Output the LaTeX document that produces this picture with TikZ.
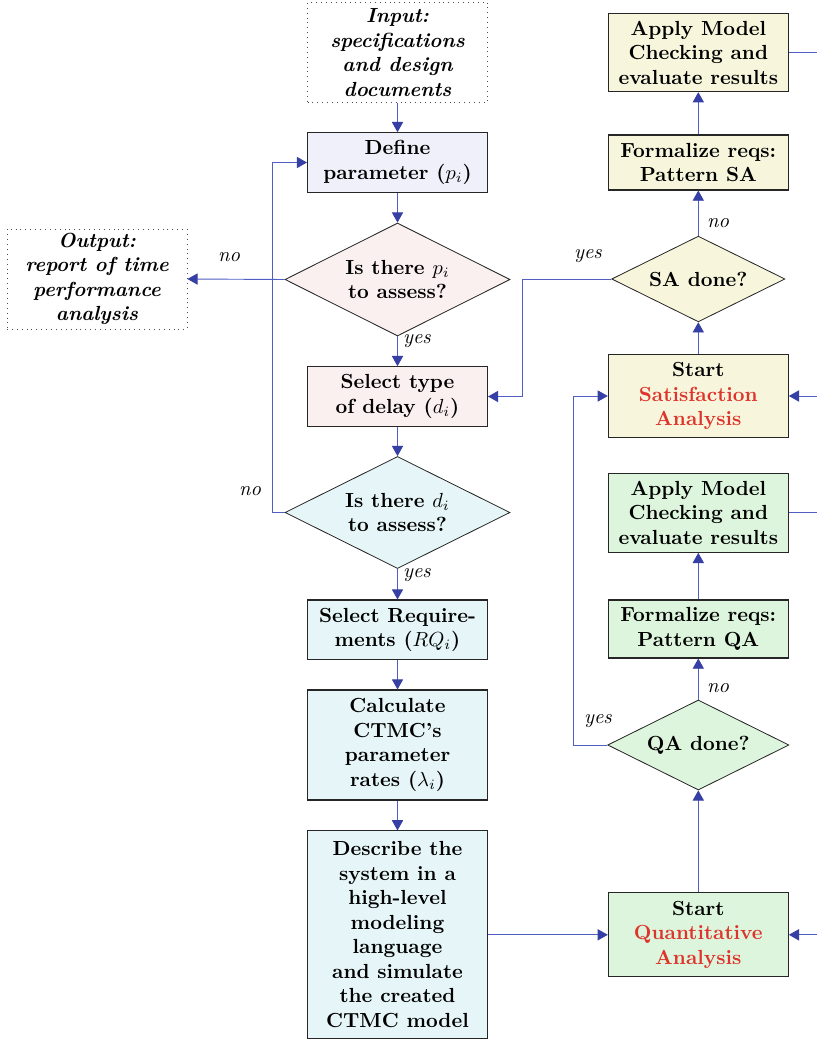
\documentclass[tikz,border=0pt]{standalone}
\usetikzlibrary{shapes.geometric,arrows.meta}
\definecolor{lineblue}{RGB}{80,94,196}
\definecolor{tipblue}{RGB}{54,64,164}
\definecolor{fillpurple}{RGB}{240,240,250}
\definecolor{fillpink}{RGB}{251,240,240}
\definecolor{fillcyan}{RGB}{230,246,248}
\definecolor{fillyellow}{RGB}{247,246,220}
\definecolor{fillgreen}{RGB}{220,245,220}
\definecolor{redtext}{RGB}{222,52,44}
\tikzset{
  box/.style={draw=black!85, line width=0.5pt, rectangle, align=center,
    font=\bfseries, minimum width=180*0.49pt, inner sep=0pt},
  dec/.style={draw=black!85, line width=0.4pt, diamond, aspect=2, align=center,
    font=\bfseries, inner sep=0pt},
  io/.style={draw=black!70, dotted, line width=0.4pt, rectangle, align=center,
    font=\bfseries\itshape, minimum width=180*0.49pt, minimum height=100*0.49pt, inner sep=0pt},
  flowarrow/.style={draw=lineblue, line width=0.45pt, -{Triangle[length=5pt,width=5.5pt,color=tipblue]}},
  flowline/.style={draw=lineblue, line width=0.45pt},
  lbl/.style={font=\itshape, inner sep=0pt},
}
\begin{document}
\begin{tikzpicture}[x=0.49pt,y=-0.49pt]
\useasboundingbox (0,0) rectangle (817,1040);

% left column
\node[io] (input) at (397.5,52.5) {Input:\\specifications\\and design\\documents};
\node[box, fill=fillpurple, minimum height=59.6*0.49pt] (def) at (397.5,162.5) {Define\\parameter ($p_i$)};
\node[dec, fill=fillpink, minimum width=225*0.49pt, minimum height=113*0.49pt] (d1) at (397.5,279.5) {Is there $p_i$\\to assess?};
\node[io] (output) at (97,279) {Output:\\report of time\\performance\\analysis};
\node[box, fill=fillpink, minimum height=59.6*0.49pt] (seltype) at (397.5,396.5) {Select type\\of delay ($d_i$)};
\node[dec, fill=fillcyan, minimum width=225*0.49pt, minimum height=112*0.49pt] (d2) at (397.5,512.5) {Is there $d_i$\\to assess?};
\node[box, fill=fillcyan, minimum height=59.4*0.49pt] (selreq) at (397.5,629.7) {Select Require-\\ments ($RQ_i$)};
\node[box, fill=fillcyan, minimum height=110*0.49pt] (calc) at (397.5,745) {Calculate\\CTMC's\\parameter\\rates ($\lambda_i$)};
\node[box, fill=fillcyan, minimum height=207.3*0.49pt] (desc) at (397.5,934.6) {Describe the\\system in a\\high-level\\modeling\\language\\and simulate\\the created\\CTMC model};

% right column
\node[box, fill=fillyellow, minimum height=78.4*0.49pt] (applysa) at (698.3,52.5) {Apply Model\\Checking and\\evaluate results};
\node[box, fill=fillyellow, minimum height=55*0.49pt] (formsa) at (698.3,162.5) {Formalize reqs:\\Pattern SA};
\node[dec, fill=fillyellow, minimum width=173.3*0.49pt, minimum height=85.7*0.49pt] (sa) at (698.3,279) {SA done?};
\node[box, fill=fillyellow, minimum height=83.4*0.49pt] (startsa) at (698.3,396) {Start\\{\color{redtext}Satisfaction}\\{\color{redtext}Analysis}};
\node[box, fill=fillgreen, minimum height=79*0.49pt] (applyqa) at (698.3,512.8) {Apply Model\\Checking and\\evaluate results};
\node[box, fill=fillgreen, minimum height=58*0.49pt] (formqa) at (698.3,629) {Formalize reqs:\\Pattern QA};
\node[dec, fill=fillgreen, minimum width=181.3*0.49pt, minimum height=90*0.49pt] (qa) at (698.3,745) {QA done?};
\node[box, fill=fillgreen, minimum height=83.7*0.49pt] (startqa) at (698.3,934.8) {Start\\{\color{redtext}Quantitative}\\{\color{redtext}Analysis}};

% helper coordinates
\coordinate (loopx) at (272,0);
\coordinate (sax) at (522.5,0);
\coordinate (qax) at (573,0);
\coordinate (eapplysa) at (817,52.5);
\coordinate (estartsa) at (817,396);
\coordinate (eapplyqa) at (817,512.8);
\coordinate (estartqa) at (817,934.8);

% main flow
\draw[flowarrow] (input) -- (def);
\draw[flowarrow] (def) -- (d1);
\draw[flowarrow] (d1) -- (seltype);
\draw[flowarrow] (seltype) -- (d2);
\draw[flowarrow] (d2) -- (selreq);
\draw[flowarrow] (selreq) -- (calc);
\draw[flowarrow] (calc) -- (desc);
\draw[flowarrow] (desc.east |- startqa.west) -- (startqa.west);
\draw[flowarrow] (d1.west) -- (output.east);
\draw[flowarrow] (d2.west) -- (d2.west -| loopx) |- (def.west);

% right column flow
\draw[flowarrow] (startqa) -- (qa);
\draw[flowarrow] (qa) -- (formqa);
\draw[flowarrow] (formqa) -- (applyqa);
\draw[flowarrow] (startsa) -- (sa);
\draw[flowarrow] (sa) -- (formsa);
\draw[flowarrow] (formsa) -- (applysa);
\draw[flowarrow] (sa.west) -- (sa.west -| sax) |- (seltype.east);
\draw[flowarrow] (qa.west) -- (qa.west -| qax) |- (startsa.west);

% edges to the right border
\draw[flowline] (applysa.east) -- (eapplysa);
\draw[flowline] (applyqa.east) -- (eapplyqa);
\draw[flowarrow] (estartsa) -- (startsa.east);
\draw[flowarrow] (estartqa) -- (startqa.east);

% labels
\node[lbl] (lno1) at (229,257) {no};
\node[lbl] (lno2) at (250,491) {no};
\node[lbl] (lyes1) at (417,341) {yes};
\node[lbl] (lyes2) at (417,575) {yes};
\node[lbl] (lyes3) at (588,256) {yes};
\node[lbl] (lno3) at (718,223) {no};
\node[lbl] (lno4) at (718,688) {no};
\node[lbl] (lyes4) at (598,721) {yes};
\end{tikzpicture}
\end{document}
